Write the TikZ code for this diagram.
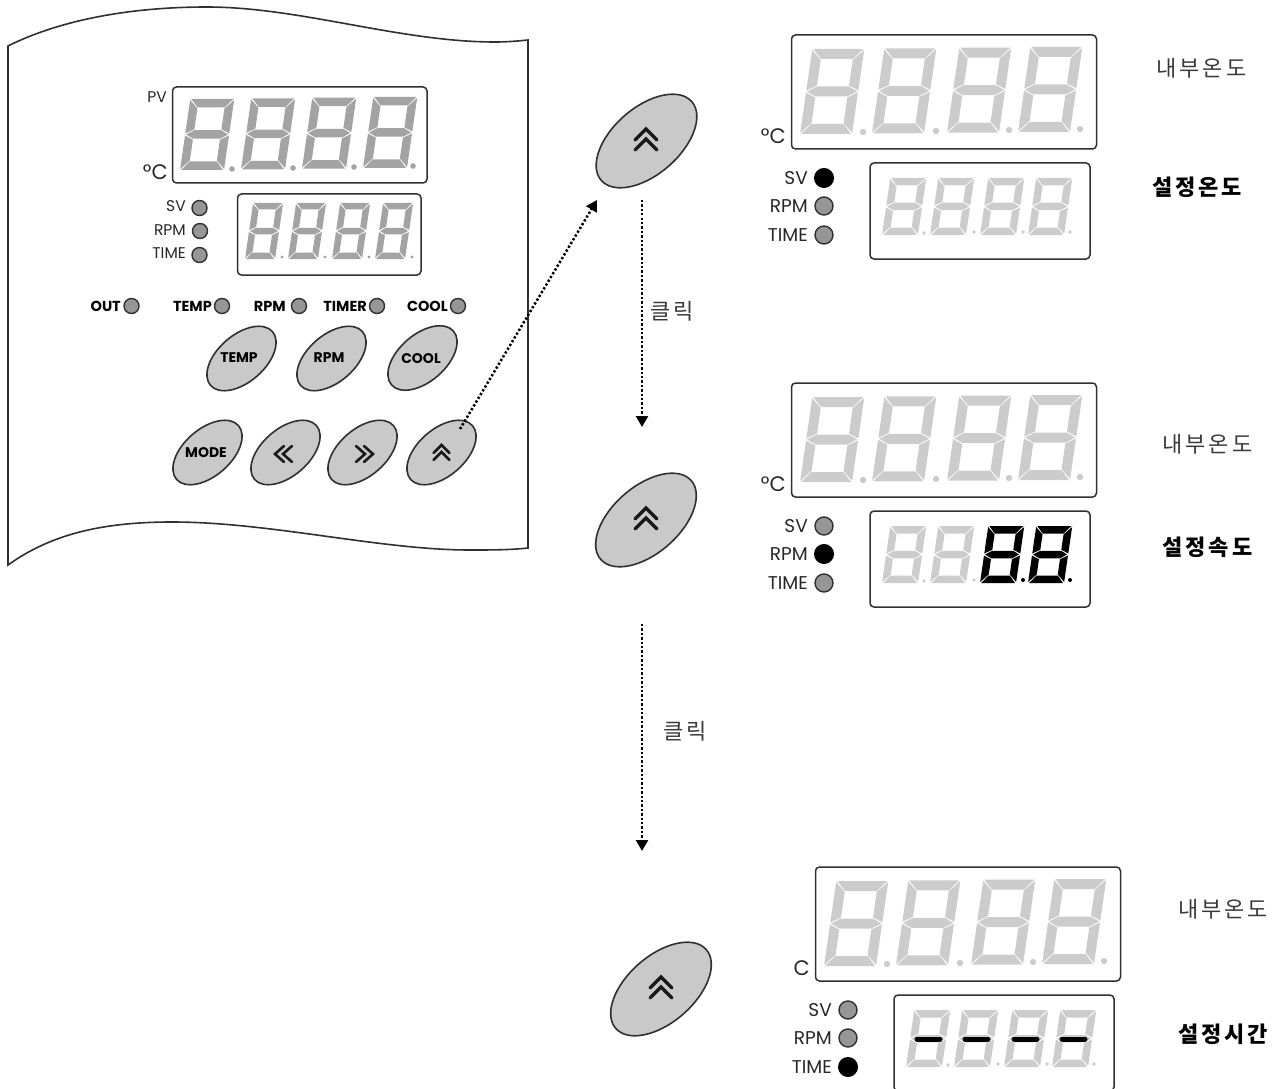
\documentclass[tikz,border=0pt]{standalone}
\usepackage{fontspec}
\setmainfont{Poppins}
\newfontfamily\krfont[LetterSpace=13]{Noto Sans CJK KR}
\usetikzlibrary{arrows.meta,shapes.geometric}
\definecolor{segpale}{HTML}{CCCCCC}
\definecolor{seggray}{HTML}{A3A3A3}
\definecolor{btnfill}{HTML}{C9C9C9}
\definecolor{ledfill}{HTML}{969696}
\definecolor{linedark}{HTML}{303030}
\definecolor{krgray}{HTML}{3A3A3A}
\tikzset{
  dispbox/.style={draw=linedark,line width=1.5pt,rounded corners=4pt,inner sep=0pt},
  led/.style={circle,draw=linedark,line width=1.4pt,fill=ledfill,inner sep=0pt},
  ledon/.style={circle,draw=black,line width=1pt,fill=black,inner sep=0pt},
  btn/.style={ellipse,draw=linedark,line width=1.6pt,fill=btnfill,inner sep=0pt,rotate=41},
  btnbig/.style={btn,minimum width=120pt,minimum height=67pt},
  btnsmall/.style={btn,minimum width=82pt,minimum height=47pt},
  lbl/.style={inner sep=0pt,text=black!85,font=\fontsize{15.5}{15.5}\selectfont},
  lblbig/.style={inner sep=0pt,text=black!85,font=\fontsize{18.5}{18.5}\selectfont},
  lbldeg/.style={inner sep=0pt,text=black!85,font=\fontsize{21}{21}\selectfont},
  lblbold/.style={inner sep=0pt,text=black,font=\fontsize{14.5}{14.5}\selectfont\bfseries},
  btntext/.style={inner sep=0pt,text=black,font=\fontsize{14}{14}\selectfont\bfseries},
  krlbl/.style={inner sep=0pt,text=krgray,font=\fontsize{22}{22}\selectfont\krfont},
  krbold/.style={inner sep=0pt,text=black,font=\fontsize{22}{22}\selectfont\krfont\bfseries},
  flow/.style={line width=2.5pt,dash pattern=on 2.3pt off 2.1pt,-{Triangle[length=11pt,width=12pt]}},
  chev/.style={draw=black!90,line width=#1,line cap=round,line join=miter,fill=none},
}
% x, y of bottom-left; W H thickness colour
\newcommand{\sevseg}[6]{%
  \begin{scope}[shift={(#1,#2)},xslant=0.145]
  \pgfmathsetmacro{\w}{#3}\pgfmathsetmacro{\h}{#4}\pgfmathsetmacro{\t}{#5}%
  \pgfmathsetmacro{\mm}{\h/2}\pgfmathsetmacro{\wt}{\w-\t}\pgfmathsetmacro{\ht}{\h-\t}%
  \pgfmathsetmacro{\wg}{\w-1}\pgfmathsetmacro{\hg}{\h-1}\pgfmathsetmacro{\htg}{\h-\t-1}%
  \pgfmathsetmacro{\mu}{\mm+\t/2}\pgfmathsetmacro{\md}{\mm-\t/2}%
  \pgfmathsetmacro{\muu}{\mm+\t/2+1}\pgfmathsetmacro{\mdd}{\mm-\t/2-1}%
  \pgfmathsetmacro{\tone}{\t+1}\pgfmathsetmacro{\mup}{\mm+1}\pgfmathsetmacro{\mdn}{\mm-1}%
  \fill[#6] (1,-\h)--(\wg,-\h)--(\wt,-\ht)--(\t,-\ht)--cycle;
  \fill[#6] (1,0)--(\wg,0)--(\wt,-\t)--(\t,-\t)--cycle;
  \fill[#6] (1,-\mm)--(\t,-\mu)--(\wt,-\mu)--(\wg,-\mm)--(\wt,-\md)--(\t,-\md)--cycle;
  \fill[#6] (0,-\hg)--(\t,-\htg)--(\t,-\muu)--(0,-\mup)--cycle;
  \fill[#6] (0,-1)--(\t,-\tone)--(\t,-\mdd)--(0,-\mdn)--cycle;
  \fill[#6] (\w,-\hg)--(\wt,-\htg)--(\wt,-\muu)--(\w,-\mup)--cycle;
  \fill[#6] (\w,-1)--(\wt,-\tone)--(\wt,-\mdd)--(\w,-\mdn)--cycle;
  \end{scope}}
\newcommand{\upchev}[4]{% x, apex y, half width / drop, step
  \draw[chev=#4] ({#1-#3},{#2+#3}) -- (#1,#2) -- ({#1+#3},{#2+#3});
  }
\newcommand{\rightpanel}[5]{%
  \begin{scope}[shift={(#2,#3)}]
  \node[dispbox,minimum width=305pt,minimum height=114pt] (#1big) at (944,92) {};
  \node[dispbox,minimum width=220pt,minimum height=96pt] (#1small) at (980,211) {};
  \sevseg{800}{134}{52}{85}{10}{segpale}
  \sevseg{872}{133.3}{52}{85}{10}{segpale}
  \sevseg{947}{132.6}{52}{85}{10}{segpale}
  \sevseg{1018}{132}{52}{85}{10}{segpale}
  \foreach \dx/\dy in {863/132,936/131,1009/130,1080/129}{\fill[segpale] (\dx,\dy) circle[radius=3.2pt];}
  \foreach \dx/\dy in {924/233,974/232,1023/232,1070/232}{\fill[segpale] (\dx,\dy) circle[radius=1.8pt];}
  \node[lbldeg,anchor=east] (#1unit) at (786,136) {#4};
  \node[lblbig,anchor=east] (#1sv) at (808,178) {SV};
  \node[lblbig,anchor=east] (#1rpm) at (808,206) {RPM};
  \node[lblbig,anchor=east] (#1time) at (808,235) {TIME};
  #5
  \end{scope}}
\begin{document}
\begin{tikzpicture}[x=1pt,y=-1pt]
\useasboundingbox (0,0) rectangle (1286,1089);
% device sheet
\draw[linedark,line width=1.6pt,line join=miter] (8,46) .. controls (60,20) and (130,7) .. (207,7)
  .. controls (300,7) and (400,42) .. (495,42) .. controls (507,42) and (518,41) .. (528,40)
  -- (528,548) .. controls (510,550) and (490,550) .. (470,550)
  .. controls (380,550) and (270,522) .. (172,522)
  .. controls (100,522) and (50,535) .. (8,565) -- cycle;
% device displays
\node[dispbox,minimum width=254.5pt,minimum height=96pt] (pbig) at (299.75,135) {};
\node[dispbox,minimum width=183.5pt,minimum height=81pt] (psmall) at (329.25,234.5) {};
\foreach \dx/\dy in {180/170,241/169.3,302/168.6,363/168}{\sevseg{\dx}{\dy}{44}{71}{8.5}{seggray}}
\foreach \dx/\dy in {232/169,293/168,354/167,413/166}{\fill[seggray] (\dx,\dy) circle[radius=2.8pt];}
\foreach \dx in {245,288,332,375}{\sevseg{\dx}{259}{30}{56}{6.5}{seggray}}
\foreach \dx in {282,325,369,412}{\fill[seggray] (\dx,257) circle[radius=1.6pt];}
\node[lbl,anchor=east] (ppv) at (167,97) {PV};
\node[lbldeg,anchor=east] (pdeg) at (168,172) {°C};
\node[lbl,anchor=east] (psvt) at (186,206) {SV};
\node[lbl,anchor=east] (prpmt) at (186,230) {RPM};
\node[lbl,anchor=east] (ptimet) at (186,253) {TIME};
\node[led,minimum size=15pt] (psvl) at (199.5,208) {};
\node[led,minimum size=15pt] (prpml) at (200,231) {};
\node[led,minimum size=15pt] (ptimel) at (199.5,255) {};
% indicator row
\foreach \nm/\tx/\tr/\lx in {out/OUT/121/131.5,temp/TEMP/212/222,rpm/RPM/286/299,timer/TIMER/367/377,cool/COOL/448/458}{
  \node[lblbold,anchor=east] (i\nm) at (\tr,306) {\tx};
  \node[led,minimum size=15pt] (l\nm) at (\lx,306) {};
}
% device buttons
\node[btnsmall] (btemp) at (241.5,358.5) {};
\node[btnsmall] (brpm) at (331.5,358.5) {};
\node[btnsmall] (bcool) at (422.5,358) {};
\node[btnsmall] (bmode) at (207.5,452.5) {};
\node[btnsmall] (bleft) at (285.5,452.5) {};
\node[btnsmall] (bright) at (362.5,452.5) {};
\node[btnsmall] (bup) at (441.5,452.5) {};
\node[btntext] (ttemp) at (239,358) {TEMP};
\node[btntext] (trpm) at (329,358) {RPM};
\node[btntext] (tcool) at (421,359) {COOL};
\node[btntext] (tmode) at (206,453) {MODE};
\draw[chev=2.6pt] (284,446) -- (275,454) -- (284,462);
\draw[chev=2.6pt] (292,446) -- (283,454) -- (292,462);
\draw[chev=2.6pt] (356,446) -- (365,454) -- (356,462);
\draw[chev=2.6pt] (364,446) -- (373,454) -- (364,462);
\upchev{441.5}{445}{8}{2.6pt}
\upchev{441.5}{452}{8}{2.6pt}
% big buttons
\node[btnbig] (up1) at (646.5,141) {};
\node[btnbig] (up2) at (646,520) {};
\node[btnbig] (up3) at (661,989) {};
\upchev{646}{129}{11}{3.5pt}
\upchev{646}{139}{11}{3.5pt}
\upchev{646}{508}{11}{3.5pt}
\upchev{646}{518}{11}{3.5pt}
\upchev{661}{977}{11}{3.5pt}
\upchev{661}{987}{11}{3.5pt}
% right panels
\rightpanel{a}{0}{0}{°C}{
  \node[ledon,minimum size=19pt] (asvl) at (824,178) {};
  \node[led,minimum size=18pt] (arpml) at (824,206) {};
  \node[led,minimum size=18pt] (atimel) at (824,235) {};
  \foreach \dx in {882,930,980,1028}{\sevseg{\dx}{235}{36}{57}{7.5}{segpale}}
}
\rightpanel{b}{0}{348}{°C}{
  \node[led,minimum size=18pt] (bsvl) at (824,178) {};
  \node[ledon,minimum size=19pt] (brpml) at (824,206) {};
  \node[led,minimum size=18pt] (btimel) at (824,235) {};
  \sevseg{882}{235}{36}{57}{7.5}{segpale}
  \sevseg{930}{235}{36}{57}{7.5}{segpale}
  \sevseg{980}{235}{36}{57}{7.5}{black}
  \sevseg{1028}{235}{36}{57}{7.5}{black}
  \fill[black] (1023,232) circle[radius=2pt];
  \fill[black] (1070,232) circle[radius=2pt];
}
\rightpanel{c}{24}{832}{C}{
  \node[led,minimum size=18pt] (csvl) at (824,178) {};
  \node[led,minimum size=18pt] (crpml) at (824,206) {};
  \node[ledon,minimum size=19pt] (ctimel) at (824,235) {};
  \foreach \dx in {882,930,980,1028}{\sevseg{\dx}{235}{36}{57}{7.5}{segpale}}
  \foreach \dx in {893,941,990,1038}{\draw[black,line width=5pt,line cap=round] (\dx,207) -- ({\dx+23},207);}
}
% Korean labels
\node[krlbl] (k1) at (1201.5,68) {내부온도};
\node[krbold] (k2) at (1197,187) {설정온도};
\node[krlbl] (k3) at (1207.5,444) {내부온도};
\node[krbold] (k4) at (1207.5,547) {설정속도};
\node[krlbl] (k5) at (1223,909) {내부온도};
\node[krbold] (k6) at (1223,1034) {설정시간};
\node[krlbl] (c1) at (672,311) {클릭};
\node[krlbl] (c2) at (685,731) {클릭};
% connectors
\coordinate (s0) at (460,429);
\coordinate (e0) at (597,200);
\coordinate (s1) at (642,200);
\coordinate (e1) at (642,427);
\coordinate (s2) at (642,624);
\coordinate (e2) at (642,851);
\draw[flow] (s0) -- (e0);
\draw[flow] (s1) -- (e1);
\draw[flow] (s2) -- (e2);
\end{tikzpicture}
\end{document}
